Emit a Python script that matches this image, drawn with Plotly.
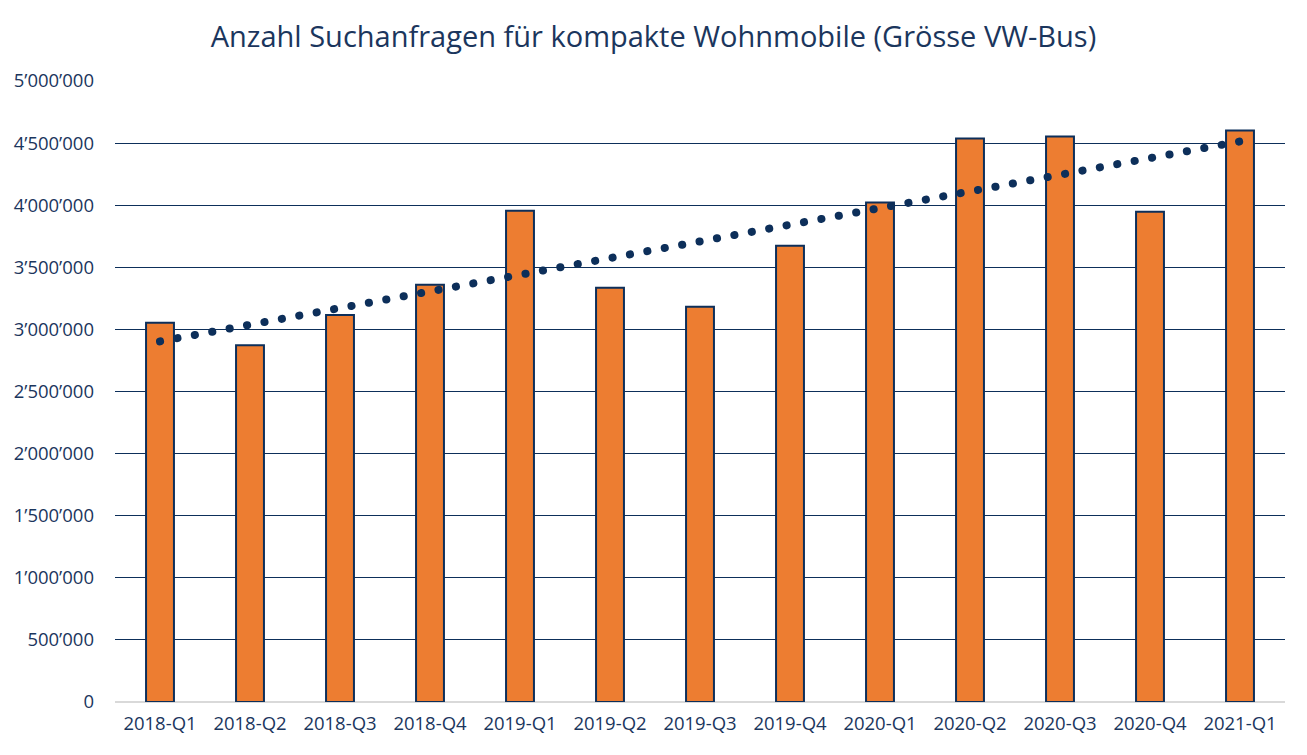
import numpy as np
import plotly.graph_objects as go

categories = ["2018-Q1", "2018-Q2", "2018-Q3", "2018-Q4", "2019-Q1", "2019-Q2", "2019-Q3",
              "2019-Q4", "2020-Q1", "2020-Q2", "2020-Q3", "2020-Q4", "2021-Q1"]
searches = [3053000, 2873000, 3115000, 3360000, 3956000, 3335000, 3182000,
            3674000, 4021000, 4537000, 4553000, 3948000, 4602000]
tick_vals = [0, 500000, 1000000, 1500000, 2000000, 2500000, 3000000, 3500000, 4000000, 4500000, 5000000]
tick_text = ["0", "500\u2019000", "1\u2019000\u2019000", "1\u2019500\u2019000", "2\u2019000\u2019000",
             "2\u2019500\u2019000", "3\u2019000\u2019000", "3\u2019500\u2019000", "4\u2019000\u2019000",
             "4\u2019500\u2019000", "5\u2019000\u2019000"]
title = "Anzahl Suchanfragen für kompakte Wohnmobile (Grösse VW-Bus)"

# Linear trendline (as in the original spreadsheet chart)
idx = np.arange(len(searches))
slope, intercept = np.polyfit(idx, searches, 1)
trend = list(slope * idx + intercept)

NAVY = "#0d2f5a"
TEXT = "#1b365d"
FONT = "Open Sans"

fig = go.Figure()
fig.add_trace(go.Bar(
    x=categories, y=searches,
    marker=dict(color="#ED7D31", line=dict(color=NAVY, width=2)),
    showlegend=False,
))
fig.add_trace(go.Scatter(
    x=categories, y=trend, mode="lines",
    line=dict(color=NAVY, width=8, dash="0.1px,17.6px"),
    showlegend=False,
))

fig.update_layout(
    width=1307, height=755,
    paper_bgcolor="white", plot_bgcolor="white",
    margin=dict(l=115, r=22, t=81, b=53, autoexpand=False),
    bargap=0.69,
    font=dict(family=FONT, color=TEXT, size=18.5),
    title=dict(text=title, x=0.5, xanchor="center", y=1 - 37 / 755, yanchor="middle",
               font=dict(family=FONT, size=29, color=TEXT)),
    xaxis=dict(showgrid=False, showline=False, zeroline=False, ticks="",
               tickfont=dict(size=18.5, color=TEXT), ticklabelstandoff=8),
    yaxis=dict(range=[0, 5000000], tickvals=tick_vals, ticktext=tick_text,
               showgrid=True, gridcolor=NAVY, gridwidth=1,
               zeroline=True, zerolinecolor="#d9d9d9", zerolinewidth=2,
               showline=False, ticks="", tickfont=dict(size=18.5, color=TEXT),
               ticklabelstandoff=20),
)

post = """
document.body.style.margin = '0';
document.body.style.padding = '0';
var fix = function(){
  document.querySelectorAll('.scatterlayer .js-line').forEach(function(p){
    p.style.strokeLinecap = 'round';
  });
};
fix();
var gd = document.getElementsByClassName('plotly-graph-div')[0];
if (gd && gd.on) { gd.on('plotly_afterplot', fix); }
"""
fig.write_html("out.html", post_script=post, config={"displayModeBar": False})
